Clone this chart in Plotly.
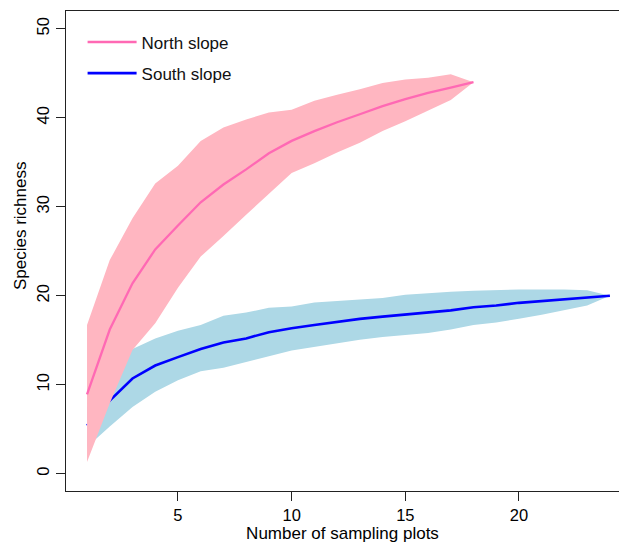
import plotly.graph_objects as go

# ---- data ----
north_x = list(range(1, 19))
north_mean = [8.9, 16.2, 21.4, 25.2, 27.9, 30.5, 32.5, 34.2, 36.0, 37.4, 38.5, 39.5, 40.4, 41.3, 42.1, 42.8, 43.4, 44.0]
north_upper = [16.7, 24.0, 28.7, 32.6, 34.6, 37.4, 38.9, 39.8, 40.6, 40.9, 41.9, 42.6, 43.2, 43.9, 44.3, 44.5, 44.9, 44.0]
north_lower = [1.3, 7.9, 13.9, 16.9, 20.9, 24.4, 26.7, 29.1, 31.5, 33.8, 34.9, 36.1, 37.2, 38.5, 39.6, 40.8, 42.0, 44.0]

south_x = list(range(1, 25))
south_mean = [5.4, 8.2, 10.7, 12.15, 13.1, 14.0, 14.75, 15.2, 15.9, 16.35, 16.7, 17.05, 17.4, 17.65, 17.9, 18.1, 18.35, 18.7, 18.9, 19.2, 19.4, 19.65, 19.85, 20.0]
south_upper = [7.5, 11.3, 14.0, 15.2, 16.05, 16.7, 17.75, 18.1, 18.65, 18.8, 19.25, 19.4, 19.55, 19.75, 20.1, 20.3, 20.45, 20.55, 20.65, 20.7, 20.7, 20.7, 20.6, 20.0]
south_lower = [3.0, 5.3, 7.5, 9.2, 10.5, 11.5, 11.9, 12.55, 13.2, 13.85, 14.25, 14.65, 15.05, 15.35, 15.6, 15.8, 16.2, 16.7, 17.0, 17.4, 17.85, 18.35, 18.9, 20.0]

x_ticks = [5, 10, 15, 20]
y_ticks = [0, 10, 20, 30, 40, 50]

FONT = "Liberation Sans, Arial, sans-serif"

fig = go.Figure()

# south band + line
fig.add_trace(go.Scatter(
    x=south_x + south_x[::-1], y=south_upper + south_lower[::-1],
    fill="toself", fillcolor="#ADD8E6", line=dict(width=0, color="#ADD8E6"),
    mode="lines", showlegend=False, hoverinfo="skip"))
fig.add_trace(go.Scatter(
    x=south_x, y=south_mean, mode="lines",
    line=dict(color="#0000FF", width=2.6), name="South slope",
    legendrank=2, legendgroup="s"))
# north band + line
fig.add_trace(go.Scatter(
    x=north_x + north_x[::-1], y=north_upper + north_lower[::-1],
    fill="toself", fillcolor="#FFB6C1", line=dict(width=0, color="#FFB6C1"),
    mode="lines", showlegend=False, hoverinfo="skip"))
fig.add_trace(go.Scatter(
    x=north_x, y=north_mean, mode="lines",
    line=dict(color="#FF69B4", width=2.3), name="North slope",
    legendrank=1, legendgroup="n"))

fig.add_annotation(text="Species richness", textangle=-90,
                   xref="paper", yref="paper", x=0, y=0.552,
                   xanchor="center", yanchor="middle", xshift=-46,
                   showarrow=False, font=dict(family=FONT, size=17, color="black"))

fig.update_layout(
    width=619, height=546,
    margin=dict(l=66, r=0, t=11, b=55),
    paper_bgcolor="white", plot_bgcolor="white",
    font=dict(family=FONT, size=17, color="black"),
    showlegend=True,
    legend=dict(x=0.03, y=0.972, xanchor="left", yanchor="top",
                bgcolor="rgba(0,0,0,0)", borderwidth=0,
                font=dict(family=FONT, size=17, color="#111"),
                tracegroupgap=6, itemwidth=49),
    xaxis=dict(range=[0.075, 24.40], tickvals=x_ticks, ticktext=[str(v) for v in x_ticks],
               showgrid=False, zeroline=False, showline=True, linecolor="#222",
               linewidth=1.3, mirror=True, ticks="outside", ticklen=9, tickwidth=1.2,
               tickcolor="#222", title=dict(text="Number of sampling plots", standoff=4,
                                            font=dict(size=17)),
               tickfont=dict(size=16.5)),
    yaxis=dict(range=[-1.95, 52.0], tickvals=y_ticks, ticktext=[str(v) for v in y_ticks],
               showgrid=False, zeroline=False, showline=True, linecolor="#222",
               linewidth=1.3, ticks="outside", ticklen=9, tickwidth=1.2,
               tickcolor="#222", tickangle=-90,
               tickfont=dict(size=16.5)),
)

fig.write_html("out.html")
